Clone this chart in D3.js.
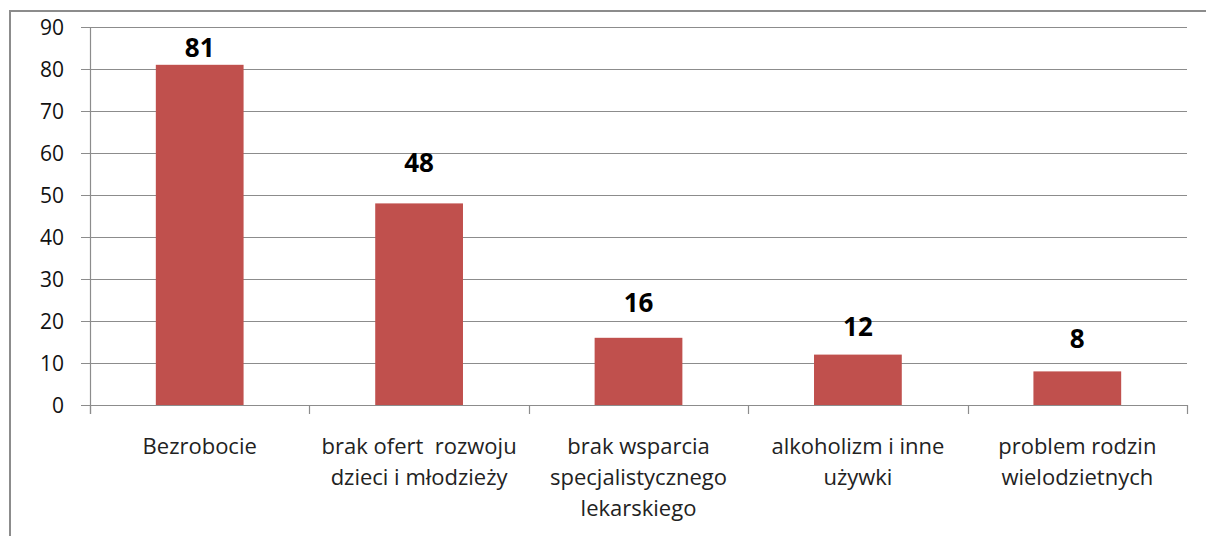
<!DOCTYPE html>
<html>
<head>
  <meta charset="utf-8">
  <style>
    body { margin: 0; background: #fff; }
    svg { display: block; font-family: "Open Sans", sans-serif; }
  </style>
</head>
<body>
  <div id="chart"></div>
  <script src="https://d3js.org/d3.v7.min.js"></script>
  <script>
    // data
    var categories = [
      ["Bezrobocie"],
      ["brak ofert  rozwoju", "dzieci i młodzieży"],
      ["brak wsparcia", "specjalistycznego", "lekarskiego"],
      ["alkoholizm i inne", "używki"],
      ["problem rodzin", "wielodzietnych"]
    ];
    var values = [81, 48, 16, 12, 8];
    var yTicks = [0, 10, 20, 30, 40, 50, 60, 70, 80, 90];

    // labels were placed by hand in the original, so lift them by bar
    var labelLift = [8, 31, 26, 19, 23];

    var W = 1206, H = 536;
    var margin = {top: 27, right: 19, bottom: 131, left: 90};
    var width = W - margin.left - margin.right;
    var height = H - margin.top - margin.bottom;

    var svg = d3.select("#chart").append("svg")
        .attr("width", W)
        .attr("height", H);

    // outer frame
    svg.append("rect")
        .attr("x", 10).attr("y", 11)
        .attr("width", W + 20).attr("height", H + 20)
        .attr("fill", "none")
        .attr("stroke", "#8c8c8c")
        .attr("stroke-width", 2);

    var g = svg.append("g")
        .attr("transform", "translate(" + margin.left + "," + margin.top + ")");

    var keys = d3.range(values.length);
    var x = d3.scaleBand().domain(keys).range([0, width]);
    var y = d3.scaleLinear().domain([0, 90]).range([height, 0]);

    // gridlines
    g.selectAll("line.grid")
        .data(yTicks)
        .enter().append("line")
        .attr("x1", -9).attr("x2", width)
        .attr("y1", d => Math.round(y(d)) + 0.5)
        .attr("y2", d => Math.round(y(d)) + 0.5)
        .attr("stroke", "#8c8c8c")
        .attr("stroke-width", 1.2);

    // y axis line
    g.append("line")
        .attr("x1", 0.5).attr("x2", 0.5)
        .attr("y1", 0).attr("y2", height + 9)
        .attr("stroke", "#8c8c8c").attr("stroke-width", 1.2);

    // y tick labels
    g.selectAll("text.ytick")
        .data(yTicks)
        .enter().append("text")
        .attr("x", -26)
        .attr("y", d => y(d))
        .attr("dy", "0.36em")
        .attr("text-anchor", "end")
        .attr("font-size", 21)
        .attr("fill", "#111")
        .text(d => d);

    // x category tick marks at band boundaries
    g.selectAll("line.xtick")
        .data(d3.range(values.length + 1))
        .enter().append("line")
        .attr("x1", d => Math.round(d * x.step()) + 0.5)
        .attr("x2", d => Math.round(d * x.step()) + 0.5)
        .attr("y1", height).attr("y2", height + 9)
        .attr("stroke", "#8c8c8c").attr("stroke-width", 1.2);

    var barW = x.bandwidth() * 0.4;

    g.selectAll("rect.bar")
        .data(values)
        .enter().append("rect")
        .attr("x", (d, i) => x(i) + x.bandwidth() / 2 - barW / 2)
        .attr("y", d => y(d))
        .attr("width", barW)
        .attr("height", d => height - y(d))
        .attr("fill", "#c0504d");

    // value labels
    g.selectAll("text.val")
        .data(values)
        .enter().append("text")
        .attr("x", (d, i) => x(i) + x.bandwidth() / 2)
        .attr("y", (d, i) => y(d) - labelLift[i])
        .attr("text-anchor", "middle")
        .attr("font-size", 26)
        .attr("font-weight", "bold")
        .attr("fill", "#000")
        .text(d => d);

    // category labels
    var cat = g.selectAll("text.cat")
        .data(categories)
        .enter().append("text")
        .attr("text-anchor", "middle")
        .attr("font-size", 22)
        .attr("fill", "#222")
        .attr("transform", (d, i) => "translate(" + (x(i) + x.bandwidth() / 2) + "," + (height + 49) + ")");

    cat.selectAll("tspan")
        .data(d => d)
        .enter().append("tspan")
        .attr("x", 0)
        .attr("y", (d, i) => i * 31)
        .style("white-space", "pre")
        .text(d => d);
  </script>
</body>
</html>
